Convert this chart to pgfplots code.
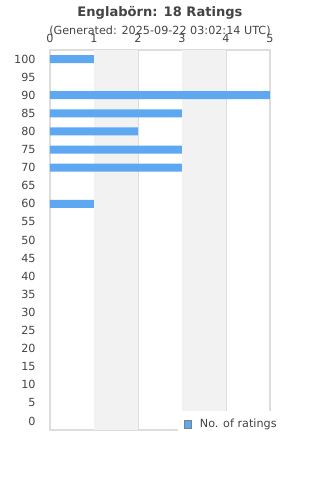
\documentclass[border=0pt]{standalone}
\usepackage{pgfplots}
\pgfplotsset{compat=1.18}
\usepackage{fontspec}
\setmainfont{DejaVu Sans}
\definecolor{barblue}{HTML}{5EA8F2}
\definecolor{txt}{HTML}{444444}
\definecolor{band}{HTML}{F2F2F2}
\definecolor{gridc}{HTML}{DDDDDD}
\begin{document}
\begin{tikzpicture}
\useasboundingbox (0,0) rectangle (240pt,360pt);
\node[text=txt,font=\fontsize{9.8pt}{11pt}\selectfont\bfseries] at (120pt,350pt) {Englabörn: 18 Ratings};
\node[text=txt,font=\fontsize{8.4pt}{10pt}\selectfont] at (120pt,336.5pt) {(Generated: 2025-09-22 03:02:14 UTC)};
\begin{axis}[
  at={(37.5pt,37.5pt)}, anchor=south west,
  scale only axis, width=165pt, height=285pt,
  xmin=0, xmax=5, ymin=-2.5, ymax=102.5,
  xbar, bar width=6pt,
  xtick={0,1,2,3,4,5},
  ytick={0,5,...,100},
  xticklabel pos=upper,
  tick style={draw=none},
  xmajorgrids, grid style={gridc, line width=0.6pt},
  axis line style={draw=gridc, line width=0.8pt},
  ticklabel style={text=txt, font=\fontsize{8.4pt}{10pt}\selectfont},
  /pgf/number format/assume math mode=true,
  xticklabel style={yshift=2pt},
  yticklabel style={xshift=-3pt},
  legend style={at={(0.582,0.05)}, anchor=north west, draw=none, fill=white,
    font=\fontsize{8.4pt}{10pt}\selectfont, text=txt, inner xsep=4pt, inner ysep=4pt,
    legend cell align=left},
  legend image code/.code={\draw[fill=barblue,draw=gray,line width=0.6pt] (0pt,-2.8pt) rectangle (5.6pt,2.8pt);},
]
\fill[band] (axis cs:1,-2.5) rectangle (axis cs:2,102.5);
\fill[band] (axis cs:3,-2.5) rectangle (axis cs:4,102.5);
\addplot[fill=barblue, draw=none] coordinates {
(1,100) (5,90) (3,85) (2,80) (3,75) (3,70) (1,60)
};
\addlegendentry{\hspace{4pt}No. of ratings}
\end{axis}
\end{tikzpicture}
\end{document}
